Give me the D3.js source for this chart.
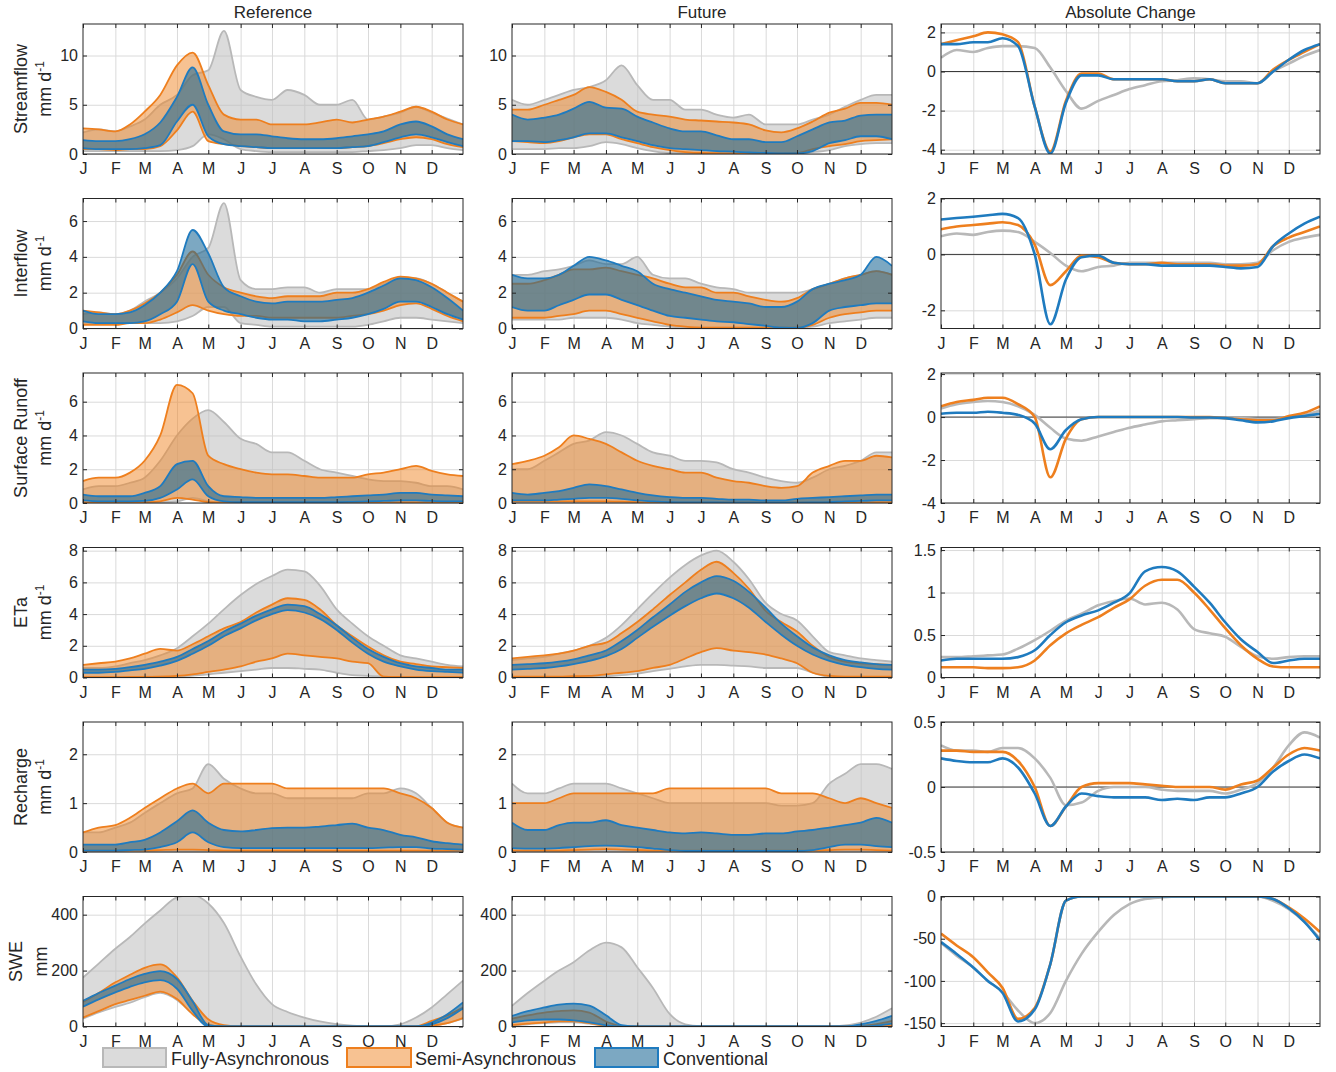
<!DOCTYPE html>
<html><head><meta charset="utf-8">
<script src="https://cdn.jsdelivr.net/npm/d3@7"></script>
<style>
body{margin:0;background:#fff}
svg text{font-family:"Liberation Sans",Arial,Helvetica,sans-serif;fill:#262626}
</style>
</head><body>
<svg id="chart" width="1336" height="1072"></svg>
<script>
// ---------------- DATA ----------------
const days = [1,16,32,46,60,75,91,106,121,136,152,167,182,197,213,228,244,259,274,289,305,320,335,350,365];
const monthStarts = [1,32,60,91,121,152,182,213,244,274,305,335];
const monthLabels = ["J","F","M","A","M","J","J","A","S","O","N","D"];
const seriesKeys = ["gray","orange","blue"];
const seriesNames = ["Fully-Asynchronous","Semi-Asynchronous","Conventional"];
const columnTitles = ["Reference","Future","Absolute Change"];
const rowLabels = ["Streamflow","Interflow","Surface Runoff","ETa","Recharge","SWE"];
const rowUnits = ["mm d","mm d","mm d","mm d","mm d","mm"];
const rowUnitSup = ["-1","-1","-1","-1","-1",""];
const levelTicks = [[0,5,10],[0,2,4,6],[0,2,4,6],[0,2,4,6,8],[0,1,2],[0,200,400]];
const changeTicks = [[-4,-2,0,2],[-2,0,2],[-4,-2,0,2],[0,0.5,1,1.5],[-0.5,0,0.5],[-150,-100,-50,0]];
const levelDomains = [[0,13.2],[0,7.26],[0,7.7],[0,8.2],[0,2.66],[0,465]];
const changeDomains = [[-4.22,2.43],[-2.65,2.0],[-4,2.05],[0,1.53],[-0.5,0.5],[-154,0]];

// Streamflow
const sfRefGrayHi = [2.2,2.5,2.3,2.8,3.5,5.0,6.0,8.0,8.5,12.5,6.5,5.8,5.5,6.5,6.0,5.0,5.0,5.5,3.5,3.8,4.2,4.8,4.2,3.6,3.0];
const sfRefGrayLo = [0.3,0.3,0.3,0.3,0.3,0.3,0.4,0.8,2.0,1.5,0.5,0.3,0.2,0.2,0.2,0.2,0.2,0.2,0.3,0.4,0.6,0.9,0.9,0.6,0.4];
const sfRefOrangeHi = [2.6,2.5,2.3,3.0,4.3,6.0,9.0,10.3,7.0,4.0,3.5,3.5,3.0,3.0,3.0,3.2,3.5,3.2,3.5,3.8,4.3,4.8,4.3,3.5,3.0];
const sfRefOrangeLo = [0.5,0.5,0.4,0.5,0.5,0.8,2.4,4.3,1.3,1.0,0.8,0.7,0.6,0.6,0.6,0.6,0.6,0.7,0.8,1.1,1.5,1.7,1.5,1.0,0.7];
const sfRefBlueHi = [1.4,1.3,1.3,1.5,2.0,3.2,5.8,8.8,5.0,2.3,2.0,2.0,1.8,1.6,1.5,1.5,1.6,1.8,2.0,2.3,3.0,3.3,2.8,2.0,1.5];
const sfRefBlueLo = [0.6,0.5,0.5,0.5,0.6,0.9,3.3,5.0,1.8,1.0,0.8,0.7,0.6,0.6,0.6,0.6,0.6,0.7,0.8,1.2,1.7,2.0,1.7,1.2,0.8];
const sfFutGrayHi = [5.5,5.0,5.5,6.0,6.5,6.8,7.5,9.0,7.0,5.5,5.5,4.5,4.5,4.0,3.7,4.0,3.0,3.0,3.0,3.5,4.0,4.8,5.5,6.0,6.0];
const sfFutGrayLo = [0.5,0.5,0.5,0.6,0.6,0.8,1.2,1.0,0.6,0.3,0.1,0.1,0.1,0.1,0.1,0.1,0.1,0.1,0.1,0.2,0.4,0.8,1.0,1.1,1.1];
const sfFutOrangeHi = [4.5,4.5,5.0,5.5,6.0,6.8,6.3,5.5,4.3,4.0,3.8,3.5,3.4,3.3,3.2,3.0,2.4,2.2,2.6,3.3,4.2,4.6,5.2,5.2,5.0];
const sfFutOrangeLo = [1.3,1.2,1.1,1.3,1.7,2.0,2.0,1.5,1.1,0.7,0.4,0.2,0.1,0.08,0.05,0.05,0.05,0.05,0.1,0.5,0.8,1.0,1.3,1.4,1.5];
const sfFutBlueHi = [4.0,3.5,3.7,4.0,4.6,5.3,4.7,4.6,3.8,3.2,2.6,2.3,2.3,1.9,1.5,1.5,1.2,1.2,1.8,2.5,3.2,3.4,3.9,4.0,4.0];
const sfFutBlueLo = [1.3,1.3,1.2,1.4,1.7,2.1,2.1,1.7,1.3,0.9,0.6,0.5,0.4,0.3,0.25,0.15,0.1,0.05,0.05,0.3,1.1,1.4,1.8,1.8,1.5];
const sfChgGray = [0.7,1.1,1.0,1.2,1.3,1.3,1.2,0.2,-1.0,-1.9,-1.5,-1.2,-0.9,-0.7,-0.5,-0.45,-0.35,-0.4,-0.5,-0.5,-0.6,0.0,0.4,0.8,1.1];
const sfChgOrange = [1.4,1.6,1.8,2.0,1.9,1.5,-1.8,-4.1,-1.5,-0.1,-0.1,-0.4,-0.4,-0.4,-0.4,-0.5,-0.5,-0.4,-0.6,-0.6,-0.6,0.1,0.6,1.0,1.4];
const sfChgBlue = [1.4,1.4,1.5,1.5,1.7,1.3,-1.8,-4.2,-1.6,-0.2,-0.2,-0.4,-0.4,-0.4,-0.4,-0.5,-0.5,-0.4,-0.6,-0.6,-0.6,0.0,0.6,1.1,1.4];

// Interflow
const ifRefGrayHi = [0.8,0.9,0.8,1.0,1.5,2.0,2.8,4.0,4.5,7.0,2.7,2.2,2.2,2.3,2.3,2.0,2.2,2.2,2.2,2.5,2.8,2.8,2.5,2.0,1.5];
const ifRefGrayLo = [0.3,0.3,0.3,0.3,0.3,0.3,0.4,0.7,1.2,1.2,0.3,0.2,0.1,0.1,0.1,0.1,0.1,0.1,0.2,0.4,0.6,0.6,0.5,0.4,0.3];
const ifRefOrangeHi = [1.0,0.9,0.8,1.0,1.4,2.0,3.0,4.3,3.0,2.3,2.0,1.8,1.7,1.8,1.8,1.8,2.0,2.0,2.2,2.6,2.9,2.8,2.5,2.0,1.5];
const ifRefOrangeLo = [0.2,0.2,0.2,0.3,0.3,0.5,0.9,1.3,1.0,0.8,0.7,0.7,0.6,0.6,0.6,0.6,0.6,0.7,0.8,1.0,1.3,1.4,1.1,0.7,0.4];
const ifRefBlueHi = [1.0,0.8,0.8,0.9,1.3,2.0,3.2,5.5,4.2,2.3,1.8,1.5,1.4,1.5,1.5,1.5,1.6,1.7,2.0,2.4,2.8,2.7,2.3,1.7,1.0];
const ifRefBlueLo = [0.4,0.3,0.3,0.3,0.4,0.8,1.5,3.6,1.5,1.0,0.8,0.6,0.5,0.5,0.4,0.4,0.5,0.6,0.8,1.1,1.5,1.5,1.2,0.8,0.5];
const ifFutGrayHi = [3.0,3.0,3.2,3.3,3.5,3.8,3.6,3.6,4.0,3.0,2.8,2.8,2.5,2.3,2.2,2.0,2.0,2.0,2.0,2.2,2.5,2.8,3.0,3.2,3.0];
const ifFutGrayLo = [0.5,0.5,0.5,0.5,0.6,0.6,0.6,0.5,0.3,0.2,0.1,0.05,0.05,0.05,0.05,0.05,0.05,0.05,0.05,0.1,0.3,0.4,0.5,0.6,0.6];
const ifFutOrangeHi = [2.5,2.5,2.7,3.0,3.3,3.3,3.4,3.2,3.0,2.8,2.5,2.3,2.3,2.0,2.0,1.8,1.6,1.5,1.7,2.2,2.5,2.8,3.0,3.2,3.0];
const ifFutOrangeLo = [0.6,0.6,0.6,0.7,0.8,1.0,1.0,0.8,0.6,0.4,0.2,0.1,0.05,0.05,0.05,0.05,0.05,0.05,0.05,0.2,0.6,0.8,0.9,1.0,1.0];
const ifFutBlueHi = [3.0,2.8,2.8,3.0,3.5,4.0,3.8,3.5,3.2,2.5,2.2,2.0,1.8,1.6,1.5,1.4,1.2,1.2,1.5,2.2,2.5,2.7,3.0,4.0,3.5];
const ifFutBlueLo = [1.2,1.0,1.0,1.3,1.6,1.9,1.9,1.6,1.3,1.0,0.7,0.6,0.5,0.4,0.35,0.25,0.15,0.05,0.03,0.3,1.0,1.2,1.3,1.4,1.4];
const ifChgGray = [0.65,0.75,0.7,0.8,0.85,0.8,0.45,0.05,-0.4,-0.6,-0.45,-0.4,-0.3,-0.3,-0.3,-0.3,-0.3,-0.3,-0.35,-0.35,-0.3,0.15,0.45,0.6,0.7];
const ifChgOrange = [0.9,1.0,1.05,1.1,1.15,1.05,0.35,-1.1,-0.6,-0.05,-0.1,-0.3,-0.35,-0.35,-0.3,-0.35,-0.35,-0.35,-0.4,-0.4,-0.35,0.3,0.6,0.8,1.0];
const ifChgBlue = [1.25,1.3,1.35,1.4,1.45,1.3,0.0,-2.5,-0.9,-0.1,-0.05,-0.3,-0.35,-0.35,-0.4,-0.4,-0.4,-0.4,-0.45,-0.5,-0.45,0.3,0.75,1.1,1.35];

// Surface runoff
const srRefGrayHi = [0.8,1.0,1.0,1.2,1.5,2.5,4.0,5.0,5.5,4.8,3.8,3.5,3.0,3.0,2.5,2.0,1.8,1.6,1.4,1.3,1.3,1.2,1.0,1.0,0.8];
const srRefGrayLo = [0.03,0.03,0.03,0.03,0.03,0.05,0.1,0.3,0.1,0.03,0.03,0.03,0.03,0.03,0.03,0.03,0.03,0.03,0.03,0.03,0.03,0.03,0.03,0.03,0.03];
const srRefOrangeHi = [1.3,1.5,1.5,1.8,2.5,4.0,7.0,6.5,2.8,2.3,2.0,1.8,1.7,1.7,1.6,1.5,1.5,1.5,1.7,1.8,2.0,2.2,1.9,1.7,1.6];
const srRefOrangeLo = [0.03,0.03,0.03,0.03,0.05,0.1,0.3,0.2,0.05,0.03,0.03,0.03,0.03,0.03,0.03,0.03,0.03,0.03,0.03,0.03,0.03,0.03,0.03,0.03,0.03];
const srRefBlueHi = [0.5,0.4,0.4,0.4,0.6,1.0,2.3,2.5,1.0,0.4,0.35,0.3,0.3,0.3,0.3,0.3,0.35,0.4,0.45,0.5,0.6,0.6,0.5,0.45,0.4];
const srRefBlueLo = [0.15,0.1,0.1,0.1,0.12,0.3,0.8,1.4,0.4,0.1,0.05,0.05,0.05,0.05,0.05,0.05,0.05,0.07,0.1,0.12,0.15,0.15,0.12,0.1,0.1];
const srFutGrayHi = [2.0,2.0,2.5,3.0,3.5,3.7,4.2,4.0,3.5,3.0,2.8,2.5,2.5,2.4,2.0,1.8,1.5,1.3,1.2,1.5,2.0,2.2,2.5,3.0,3.0];
const srFutGrayLo = [0.03,0.03,0.03,0.03,0.03,0.03,0.03,0.03,0.03,0.03,0.03,0.03,0.03,0.03,0.03,0.03,0.03,0.03,0.03,0.03,0.03,0.03,0.03,0.03,0.03];
const srFutOrangeHi = [2.3,2.5,2.8,3.3,4.0,3.8,3.5,3.0,2.5,2.2,2.0,1.8,1.8,1.5,1.3,1.2,1.0,0.9,1.0,1.8,2.2,2.5,2.5,2.8,2.7];
const srFutOrangeLo = [0.1,0.1,0.1,0.1,0.1,0.1,0.1,0.08,0.05,0.03,0.03,0.03,0.03,0.03,0.03,0.03,0.03,0.03,0.03,0.03,0.05,0.05,0.05,0.05,0.05];
const srFutBlueHi = [0.6,0.5,0.6,0.7,0.9,1.1,1.0,0.8,0.6,0.45,0.35,0.3,0.3,0.25,0.2,0.2,0.15,0.15,0.25,0.3,0.35,0.4,0.45,0.5,0.5];
const srFutBlueLo = [0.15,0.15,0.15,0.2,0.25,0.3,0.3,0.25,0.15,0.1,0.05,0.04,0.03,0.03,0.02,0.02,0.02,0.02,0.02,0.03,0.05,0.1,0.12,0.15,0.15];
const srChgGray = [0.4,0.6,0.7,0.75,0.7,0.5,0.1,-0.5,-1.0,-1.1,-0.9,-0.7,-0.5,-0.35,-0.2,-0.15,-0.1,-0.05,-0.05,-0.05,-0.1,-0.1,0.0,0.1,0.3];
const srChgOrange = [0.5,0.7,0.8,0.9,0.9,0.6,0.0,-2.8,-1.0,-0.1,0.0,0.0,0.0,0.0,0.0,0.0,0.0,0.0,-0.05,-0.1,-0.15,-0.15,0.05,0.2,0.5];
const srChgBlue = [0.15,0.2,0.2,0.25,0.2,0.1,-0.3,-1.5,-0.6,-0.1,0.0,0.0,0.0,0.0,0.0,0.0,-0.02,-0.02,-0.05,-0.15,-0.25,-0.2,-0.05,0.05,0.15];

// ETa
const etRefGrayHi = [0.6,0.6,0.7,0.9,1.1,1.4,1.85,2.6,3.4,4.3,5.2,5.9,6.4,6.8,6.7,5.8,4.3,3.4,2.6,2.0,1.4,1.2,1.0,0.8,0.7];
const etRefGrayLo = [0.03,0.03,0.03,0.03,0.05,0.05,0.08,0.12,0.2,0.3,0.4,0.5,0.6,0.6,0.55,0.5,0.3,0.15,0.1,0.05,0.03,0.03,0.03,0.03,0.03];
const etRefOrangeHi = [0.8,0.9,1.0,1.2,1.5,1.8,1.7,2.1,2.6,3.1,3.5,4.1,4.6,5.0,4.9,4.3,3.3,2.6,1.95,1.4,1.0,0.85,0.7,0.65,0.6];
const etRefOrangeLo = [0.02,0.02,0.02,0.03,0.03,0.05,0.1,0.2,0.35,0.5,0.7,1.0,1.2,1.5,1.4,1.3,1.2,1.0,0.9,0.05,0.03,0.02,0.02,0.02,0.02];
const etRefBlueHi = [0.5,0.5,0.55,0.65,0.8,1.0,1.3,1.8,2.3,2.9,3.4,3.9,4.3,4.6,4.5,4.0,3.3,2.5,1.8,1.3,0.9,0.7,0.6,0.5,0.5];
const etRefBlueLo = [0.3,0.3,0.35,0.45,0.55,0.75,1.05,1.5,2.0,2.6,3.1,3.6,4.0,4.25,4.1,3.7,3.0,2.2,1.5,1.0,0.7,0.5,0.4,0.35,0.3];
const etFutGrayHi = [1.1,1.2,1.3,1.5,1.7,2.0,2.5,3.3,4.3,5.3,6.3,7.1,7.7,8.0,7.3,6.2,4.7,4.0,3.6,2.6,1.6,1.4,1.2,1.1,1.0];
const etFutGrayLo = [0.03,0.03,0.03,0.03,0.05,0.05,0.08,0.15,0.25,0.4,0.55,0.7,0.8,0.8,0.75,0.7,0.6,0.6,0.6,0.3,0.05,0.03,0.03,0.03,0.03];
const etFutOrangeHi = [1.2,1.3,1.4,1.5,1.7,2.0,2.2,2.8,3.5,4.3,5.2,6.0,6.8,7.3,6.6,5.6,4.2,3.5,2.9,2.0,1.3,1.0,0.9,0.85,0.8];
const etFutOrangeLo = [0.05,0.05,0.05,0.05,0.08,0.1,0.2,0.3,0.4,0.6,0.8,1.2,1.6,1.85,1.7,1.6,1.45,1.2,0.9,0.3,0.1,0.05,0.05,0.05,0.05];
const etFutBlueHi = [0.8,0.85,0.9,1.0,1.15,1.4,1.7,2.3,3.0,3.8,4.6,5.4,6.0,6.4,6.1,5.4,4.4,3.4,2.6,1.9,1.4,1.1,0.95,0.85,0.8];
const etFutBlueLo = [0.5,0.55,0.6,0.7,0.85,1.05,1.35,1.8,2.5,3.2,3.9,4.5,5.0,5.3,5.0,4.4,3.5,2.7,2.0,1.45,1.05,0.8,0.65,0.55,0.5];
const etChgGray = [0.24,0.24,0.25,0.26,0.27,0.34,0.44,0.55,0.67,0.75,0.85,0.9,0.93,0.86,0.88,0.8,0.57,0.52,0.48,0.36,0.25,0.22,0.24,0.25,0.25];
const etChgOrange = [0.12,0.12,0.12,0.11,0.11,0.12,0.2,0.38,0.52,0.62,0.71,0.82,0.92,1.08,1.15,1.15,1.0,0.8,0.58,0.38,0.22,0.13,0.12,0.12,0.12];
const etChgBlue = [0.2,0.22,0.22,0.22,0.22,0.24,0.32,0.5,0.65,0.73,0.79,0.88,0.99,1.25,1.3,1.25,1.07,0.88,0.65,0.45,0.3,0.17,0.2,0.22,0.22];

// Recharge
const rcRefGrayHi = [0.4,0.4,0.5,0.6,0.8,1.0,1.2,1.3,1.8,1.5,1.3,1.2,1.2,1.1,1.1,1.1,1.1,1.1,1.2,1.2,1.3,1.2,0.9,0.6,0.5];
const rcRefGrayLo = [0.02,0.02,0.02,0.02,0.02,0.02,0.02,0.02,0.02,0.02,0.02,0.02,0.02,0.02,0.02,0.02,0.02,0.02,0.02,0.02,0.02,0.02,0.02,0.02,0.02];
const rcRefOrangeHi = [0.4,0.5,0.55,0.7,0.9,1.1,1.3,1.4,1.2,1.4,1.4,1.4,1.4,1.3,1.3,1.3,1.3,1.3,1.3,1.3,1.2,1.1,0.9,0.6,0.5];
const rcRefOrangeLo = [0.03,0.03,0.03,0.03,0.03,0.04,0.05,0.05,0.04,0.03,0.03,0.03,0.03,0.03,0.03,0.03,0.03,0.03,0.03,0.03,0.03,0.03,0.03,0.03,0.03];
const rcRefBlueHi = [0.15,0.15,0.15,0.2,0.25,0.4,0.63,0.85,0.6,0.45,0.42,0.45,0.49,0.5,0.5,0.52,0.55,0.58,0.5,0.45,0.35,0.3,0.22,0.18,0.15];
const rcRefBlueLo = [0.03,0.03,0.03,0.04,0.05,0.1,0.2,0.4,0.2,0.1,0.08,0.08,0.08,0.08,0.08,0.08,0.08,0.08,0.08,0.09,0.1,0.1,0.07,0.06,0.05];
const rcFutGrayHi = [1.4,1.2,1.2,1.3,1.4,1.4,1.4,1.3,1.2,1.1,1.0,1.0,1.0,1.0,1.0,1.0,1.0,0.95,0.95,1.0,1.4,1.6,1.8,1.8,1.7];
const rcFutGrayLo = [0.02,0.02,0.02,0.02,0.02,0.02,0.02,0.02,0.02,0.02,0.02,0.02,0.02,0.02,0.02,0.02,0.02,0.02,0.02,0.02,0.02,0.02,0.02,0.02,0.02];
const rcFutOrangeHi = [1.0,1.0,1.0,1.1,1.2,1.2,1.2,1.2,1.2,1.2,1.3,1.3,1.3,1.3,1.3,1.3,1.3,1.2,1.2,1.2,1.1,1.0,1.1,1.0,0.9];
const rcFutOrangeLo = [0.03,0.03,0.03,0.03,0.04,0.05,0.06,0.05,0.04,0.03,0.03,0.03,0.03,0.03,0.03,0.03,0.03,0.03,0.03,0.03,0.04,0.05,0.05,0.04,0.03];
const rcFutBlueHi = [0.6,0.45,0.45,0.55,0.6,0.6,0.65,0.55,0.5,0.45,0.4,0.38,0.4,0.38,0.35,0.35,0.38,0.38,0.42,0.45,0.5,0.55,0.6,0.7,0.6];
const rcFutBlueLo = [0.08,0.07,0.07,0.08,0.1,0.12,0.13,0.12,0.1,0.07,0.04,0.02,0.02,0.02,0.02,0.02,0.02,0.02,0.02,0.04,0.1,0.15,0.15,0.12,0.1];
const rcChgGray = [0.32,0.28,0.28,0.27,0.3,0.3,0.22,0.07,-0.14,-0.12,-0.03,0.0,0.0,0.0,-0.02,-0.03,-0.03,-0.03,-0.05,-0.02,0.03,0.15,0.32,0.42,0.38];
const rcChgOrange = [0.28,0.28,0.27,0.27,0.27,0.2,0.0,-0.3,-0.15,0.0,0.03,0.03,0.03,0.02,0.01,0.0,0.0,0.0,-0.02,0.02,0.05,0.15,0.25,0.3,0.28];
const rcChgBlue = [0.22,0.2,0.19,0.19,0.22,0.15,-0.05,-0.3,-0.15,-0.05,-0.07,-0.08,-0.08,-0.08,-0.1,-0.09,-0.1,-0.08,-0.08,-0.05,0.0,0.12,0.2,0.25,0.22];

// SWE
const swRefGrayHi = [175,225,278,320,368,415,462,470,440,370,250,150,80,52,32,18,8,3,1,1,8,32,68,116,164];
const swRefGrayLo = [28,50,70,85,105,120,95,45,5,0,0,0,0,0,0,0,0,0,0,0,0,0,3,12,28];
const swRefOrangeHi = [88,120,158,185,210,222,176,92,26,5,0,0,0,0,0,0,0,0,0,0,0,1,20,40,68];
const swRefOrangeLo = [32,55,80,95,110,125,98,44,5,0,0,0,0,0,0,0,0,0,0,0,0,0,3,12,30];
const swRefBlueHi = [92,120,146,170,188,198,170,90,5,0,0,0,0,0,0,0,0,0,0,0,0,0,14,44,86];
const swRefBlueLo = [71,97,122,142,158,166,135,56,0,0,0,0,0,0,0,0,0,0,0,0,0,0,8,30,65];
const swFutGrayHi = [74,120,164,200,230,272,300,283,212,138,45,8,1,0,0,0,0,0,0,0,0,4,14,35,65];
const swFutGrayLo = [3,8,12,15,15,10,2,0,0,0,0,0,0,0,0,0,0,0,0,0,0,0,0,0,0];
const swFutOrangeHi = [28,40,50,55,58,50,18,2,0,0,0,0,0,0,0,0,0,0,0,0,0,0,2,8,20];
const swFutOrangeLo = [5,10,15,18,18,12,3,0,0,0,0,0,0,0,0,0,0,0,0,0,0,0,0,2,5];
const swFutBlueHi = [38,55,68,78,82,75,40,5,0,0,0,0,0,0,0,0,0,0,0,0,0,0,8,20,38];
const swFutBlueLo = [15,22,25,25,22,15,4,0,0,0,0,0,0,0,0,0,0,0,0,0,0,0,0,3,10];
const swChgGray = [-55,-70,-84,-100,-113,-135,-150,-138,-100,-68,-42,-22,-9,-3,-1,0,0,0,0,0,0,-5,-15,-30,-50];
const swChgOrange = [-44,-58,-72,-90,-108,-145,-132,-80,-5,0,0,0,0,0,0,0,0,0,0,0,0,-3,-13,-26,-42];
const swChgBlue = [-54,-68,-84,-100,-114,-148,-134,-80,-5,0,0,0,0,0,0,0,0,0,0,0,0,-3,-14,-30,-52];

// ---------------- TABLE ----------------
const bands = (g0,g1,o0,o1,b0,b1) => ({gray:[g0,g1], orange:[o0,o1], blue:[b0,b1]});
const rows = [
  {ref:bands(sfRefGrayLo,sfRefGrayHi,sfRefOrangeLo,sfRefOrangeHi,sfRefBlueLo,sfRefBlueHi),
   fut:bands(sfFutGrayLo,sfFutGrayHi,sfFutOrangeLo,sfFutOrangeHi,sfFutBlueLo,sfFutBlueHi),
   chg:{gray:sfChgGray,orange:sfChgOrange,blue:sfChgBlue}},
  {ref:bands(ifRefGrayLo,ifRefGrayHi,ifRefOrangeLo,ifRefOrangeHi,ifRefBlueLo,ifRefBlueHi),
   fut:bands(ifFutGrayLo,ifFutGrayHi,ifFutOrangeLo,ifFutOrangeHi,ifFutBlueLo,ifFutBlueHi),
   chg:{gray:ifChgGray,orange:ifChgOrange,blue:ifChgBlue}},
  {ref:bands(srRefGrayLo,srRefGrayHi,srRefOrangeLo,srRefOrangeHi,srRefBlueLo,srRefBlueHi),
   fut:bands(srFutGrayLo,srFutGrayHi,srFutOrangeLo,srFutOrangeHi,srFutBlueLo,srFutBlueHi),
   chg:{gray:srChgGray,orange:srChgOrange,blue:srChgBlue}},
  {ref:bands(etRefGrayLo,etRefGrayHi,etRefOrangeLo,etRefOrangeHi,etRefBlueLo,etRefBlueHi),
   fut:bands(etFutGrayLo,etFutGrayHi,etFutOrangeLo,etFutOrangeHi,etFutBlueLo,etFutBlueHi),
   chg:{gray:etChgGray,orange:etChgOrange,blue:etChgBlue}},
  {ref:bands(rcRefGrayLo,rcRefGrayHi,rcRefOrangeLo,rcRefOrangeHi,rcRefBlueLo,rcRefBlueHi),
   fut:bands(rcFutGrayLo,rcFutGrayHi,rcFutOrangeLo,rcFutOrangeHi,rcFutBlueLo,rcFutBlueHi),
   chg:{gray:rcChgGray,orange:rcChgOrange,blue:rcChgBlue}},
  {ref:bands(swRefGrayLo,swRefGrayHi,swRefOrangeLo,swRefOrangeHi,swRefBlueLo,swRefBlueHi),
   fut:bands(swFutGrayLo,swFutGrayHi,swFutOrangeLo,swFutOrangeHi,swFutBlueLo,swFutBlueHi),
   chg:{gray:swChgGray,orange:swChgOrange,blue:swChgBlue}}
];

// ---------------- STYLE / LAYOUT ----------------
const styles = {
  gray:  {stroke:"#b8b8b8", fill:"#bdbdbd", op:0.55},
  orange:{stroke:"#ee7f1e", fill:"#ef8525", op:0.5},
  blue:  {stroke:"#1f7bbf", fill:"#1e6996", op:0.58}
};
const colX = [83, 512, 941];
const colW = [380, 380, 379];
const rowTop0 = 24, rowStep = 174.5, plotH = 130;
const labelX = [[27,51],[27,51],[27,51],[27,51],[27,51],[22,47]];
const ink = "#262626";

const svg = d3.select("#chart");

columnTitles.forEach((t,c) => {
  svg.append("text").attr("x", colX[c] + colW[c]/2).attr("y", 18)
    .attr("text-anchor","middle").style("font-size","17px").text(t);
});

function styleAxis(g, fontSize){
  g.select(".domain").remove();
  g.selectAll(".tick line").attr("stroke", ink).attr("stroke-width", 1);
  g.selectAll("text").style("font-size", fontSize).attr("fill", ink)
    .style("font-family", '"Liberation Sans",Arial,Helvetica,sans-serif');
  g.attr("font-family", null).attr("font-size", null);
}

function drawPanel(r, c){
  const top = rowTop0 + r*rowStep;
  const w = colW[c];
  const isChg = c === 2;
  const domain = isChg ? changeDomains[r] : levelDomains[r];
  const ticks = isChg ? changeTicks[r] : levelTicks[r];
  const x = d3.scaleLinear().domain([1,365]).range([0,w]);
  const y = d3.scaleLinear().domain(domain).range([plotH,0]);
  const g = svg.append("g").attr("transform", `translate(${colX[c]},${top})`);

  const gx = g.append("g").attr("transform",`translate(0,${plotH})`)
    .call(d3.axisBottom(x).tickValues(monthStarts.slice(1)).tickSize(plotH).tickFormat(""));
  gx.select(".domain").remove();
  gx.selectAll(".tick line").attr("stroke","#dadada").attr("y2",-plotH);
  const gy = g.append("g")
    .call(d3.axisLeft(y).tickValues(ticks).tickSize(-w).tickFormat(""));
  gy.select(".domain").remove();
  gy.selectAll(".tick line").attr("stroke","#dadada");

  const cid = `clip-${r}-${c}`;
  g.append("clipPath").attr("id",cid).append("rect").attr("width",w).attr("height",plotH);
  const dg = g.append("g").attr("clip-path",`url(#${cid})`);

  if (!isChg){
    const set = c === 0 ? rows[r].ref : rows[r].fut;
    seriesKeys.forEach(k => {
      const [lo, hi] = set[k];
      const pts = days.map((d,i) => ({d, lo:lo[i], hi:hi[i]}));
      const st = styles[k];
      dg.append("path").datum(pts)
        .attr("d", d3.area().x(p=>x(p.d)).y0(p=>y(p.lo)).y1(p=>y(p.hi)).curve(d3.curveMonotoneX))
        .attr("fill", st.fill).attr("fill-opacity", st.op).attr("stroke","none");
      ["lo","hi"].forEach(key => {
        dg.append("path").datum(pts)
          .attr("d", d3.line().x(p=>x(p.d)).y(p=>y(p[key])).curve(d3.curveMonotoneX))
          .attr("fill","none").attr("stroke", st.stroke).attr("stroke-width",1.8)
          .attr("stroke-linejoin","round");
      });
    });
  } else {
    const set = rows[r].chg;
    if (domain[0] < 0 && domain[1] > 0){
      dg.append("line").attr("x1",0).attr("x2",w).attr("y1",y(0)).attr("y2",y(0))
        .attr("stroke","#3a3a3a").attr("stroke-width",1);
    }
    seriesKeys.forEach(k => {
      const pts = days.map((d,i) => ({d, v:set[k][i]}));
      dg.append("path").datum(pts)
        .attr("d", d3.line().x(p=>x(p.d)).y(p=>y(p.v)).curve(d3.curveMonotoneX))
        .attr("fill","none").attr("stroke", styles[k].stroke).attr("stroke-width",2.6)
        .attr("stroke-linejoin","round");
    });
  }

  g.append("rect").attr("width",w).attr("height",plotH).attr("fill","none")
    .attr("stroke",ink).attr("stroke-width",1);

  const ab = g.append("g").attr("transform",`translate(0,${plotH})`)
    .call(d3.axisBottom(x).tickValues(monthStarts).tickSize(-4).tickPadding(9)
      .tickFormat((d,i)=>monthLabels[i]));
  styleAxis(ab,"16px");
  const at = g.append("g").call(d3.axisTop(x).tickValues(monthStarts).tickSize(-4).tickFormat(""));
  styleAxis(at,"16px");
  const al = g.append("g").call(d3.axisLeft(y).tickValues(ticks).tickSize(-4).tickPadding(5)
    .tickFormat(d=>String(d)));
  styleAxis(al,"16px");
  const ar = g.append("g").attr("transform",`translate(${w},0)`)
    .call(d3.axisRight(y).tickValues(ticks).tickSize(-4).tickFormat(""));
  styleAxis(ar,"16px");
}

for (let r=0; r<6; r++) for (let c=0; c<3; c++) drawPanel(r,c);

rowLabels.forEach((lab, r) => {
  const cy = rowTop0 + r*rowStep + plotH/2;
  svg.append("text").attr("transform",`translate(${labelX[r][0]},${cy}) rotate(-90)`)
    .attr("text-anchor","middle").style("font-size","18px").text(lab);
  const t = svg.append("text").attr("transform",`translate(${labelX[r][1]},${cy}) rotate(-90)`)
    .attr("text-anchor","middle").style("font-size","18px");
  t.append("tspan").text(rowUnits[r]);
  if (rowUnitSup[r]) t.append("tspan").attr("dy",-7).style("font-size","12px").text(rowUnitSup[r]);
});

const legendItems = [
  {k:"gray", x:103, w:63, tx:171},
  {k:"orange", x:347, w:64, tx:415},
  {k:"blue", x:595, w:63, tx:663}
];
legendItems.forEach((it,i) => {
  const st = styles[it.k];
  svg.append("rect").attr("x",it.x).attr("y",1048).attr("width",it.w).attr("height",19)
    .attr("fill",st.fill).attr("fill-opacity",st.op).attr("stroke",st.stroke).attr("stroke-width",2);
  svg.append("text").attr("x",it.tx).attr("y",1065).style("font-size","18px").text(seriesNames[i]);
});
</script>
</body></html>
